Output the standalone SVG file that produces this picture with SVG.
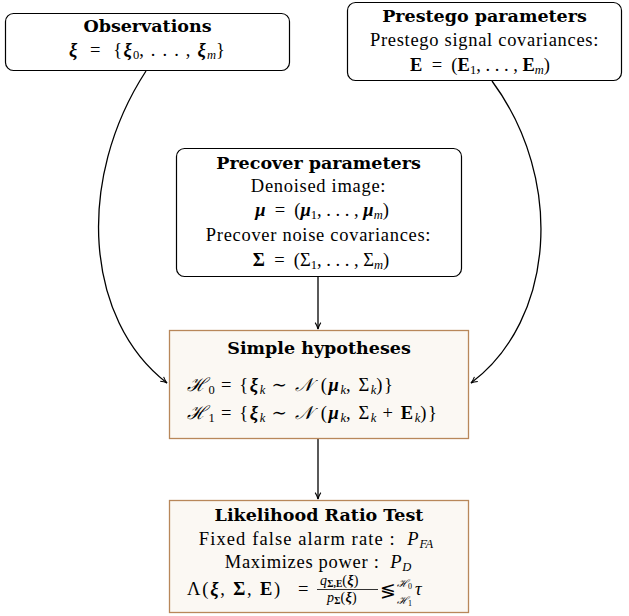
<svg xmlns="http://www.w3.org/2000/svg" width="629" height="616" viewBox="0 0 629 616">
<defs>
<style>
.box{fill:#ffffff;stroke:#000;stroke-width:1.2}
.bbox{fill:#fbf8f3;stroke:#b8875a;stroke-width:1.3}
text{font-family:"Liberation Serif","DejaVu Serif",serif;font-size:18.5px;letter-spacing:0.7px;fill:#000}
.c{text-anchor:middle}
.t{font-family:"DejaVu Serif","Liberation Serif",serif;font-weight:bold;font-size:17.5px;letter-spacing:0}
.m{font-style:italic}
.b{font-weight:bold}
.s{font-size:12.5px;letter-spacing:0}
.xs{font-size:9.5px;letter-spacing:0}
.f{font-size:14px;letter-spacing:0.3px}
.h{letter-spacing:1.6px}
.n{letter-spacing:0}
.edge{fill:none;stroke:#000;stroke-width:1.3}
</style>
<marker id="arr" viewBox="0 0 10 10" refX="9" refY="5" markerWidth="8" markerHeight="8" orient="auto" markerUnits="userSpaceOnUse">
<path d="M1,1.5 Q5,4 9,5 Q5,6 1,8.5" fill="none" stroke="#000" stroke-width="1.3"/>
</marker>
</defs>
<rect width="629" height="616" fill="#fff"/>
<g id="edges">
<path class="edge" d="M146,71 C75,180 85,320 167,383" marker-end="url(#arr)"/>
<path class="edge" d="M492,81 C565,180 555,320 471,383" marker-end="url(#arr)"/>
<path class="edge" d="M318,277 L318,329" marker-end="url(#arr)"/>
<path class="edge" d="M318,439 L318,499" marker-end="url(#arr)"/>
</g>
<g id="observations">
<rect class="box" x="5.5" y="13.5" width="284" height="57" rx="8"/>
<text class="c t" x="147.5" y="32">Observations</text>
<text class="c" x="147.5" y="56" style="letter-spacing:1.2px" xml:space="preserve"><tspan class="b m">ξ</tspan>  =  {<tspan class="b m">ξ</tspan><tspan class="s" dy="3">0</tspan><tspan dy="-3">, . . . , </tspan><tspan class="b m">ξ</tspan><tspan class="s m" dy="3">m</tspan><tspan dy="-3">}</tspan></text>
</g>
<g id="prestego">
<rect class="box" x="347.5" y="2.5" width="274" height="78" rx="8"/>
<text class="c t" x="484.5" y="22">Prestego parameters</text>
<text class="c" x="484.5" y="46">Prestego signal covariances:</text>
<text class="c n" x="480" y="71" xml:space="preserve"><tspan class="b">E</tspan>  =  (<tspan class="b">E</tspan><tspan class="s" dy="3">1</tspan><tspan dy="-3">, . . . , </tspan><tspan class="b">E</tspan><tspan class="s m" dy="3">m</tspan><tspan dy="-3">)</tspan></text>
</g>
<g id="precover">
<rect class="box" x="176.5" y="148.5" width="285" height="128" rx="8"/>
<text class="c t" x="318.5" y="169">Precover parameters</text>
<text class="c" x="318.5" y="192">Denoised image:</text>
<text class="c n" x="322" y="216" xml:space="preserve"><tspan class="b m">μ</tspan>  =  (<tspan class="b m">μ</tspan><tspan class="s" dy="3">1</tspan><tspan dy="-3">, . . . , </tspan><tspan class="b m">μ</tspan><tspan class="s m" dy="3">m</tspan><tspan dy="-3">)</tspan></text>
<text class="c" x="318.5" y="241">Precover noise covariances:</text>
<text class="c n" x="321" y="266" xml:space="preserve"><tspan class="b">Σ</tspan>  =  (Σ<tspan class="s" dy="3">1</tspan><tspan dy="-3">, . . . , Σ</tspan><tspan class="s m" dy="3">m</tspan><tspan dy="-3">)</tspan></text>
</g>
<g id="hypotheses">
<rect class="bbox" x="169.5" y="330.5" width="299" height="108"/>
<text class="c t" x="319" y="354">Simple hypotheses</text>
<text class="h" x="187" y="391" xml:space="preserve"><tspan class="m">ℋ</tspan><tspan class="s" dy="3">0</tspan><tspan dy="-3"> = {</tspan><tspan class="b m">ξ</tspan><tspan class="s m" dy="3">k</tspan><tspan dy="-3"> ∼ </tspan><tspan class="m">𝒩</tspan> (<tspan class="b m">μ</tspan><tspan class="s m" dy="3">k</tspan><tspan dy="-3">, Σ</tspan><tspan class="s m" dy="3">k</tspan><tspan dy="-3">)}</tspan></text>
<text class="h" x="187" y="419" xml:space="preserve"><tspan class="m">ℋ</tspan><tspan class="s" dy="3">1</tspan><tspan dy="-3"> = {</tspan><tspan class="b m">ξ</tspan><tspan class="s m" dy="3">k</tspan><tspan dy="-3"> ∼ </tspan><tspan class="m">𝒩</tspan> (<tspan class="b m">μ</tspan><tspan class="s m" dy="3">k</tspan><tspan dy="-3">, Σ</tspan><tspan class="s m" dy="3">k</tspan><tspan dy="-3"> + </tspan><tspan class="b">E</tspan><tspan class="s m" dy="3">k</tspan><tspan dy="-3">)}</tspan></text>
</g>
<g id="lrt">
<rect class="bbox" x="169.5" y="500.5" width="299" height="112"/>
<text class="c t" x="319" y="521">Likelihood Ratio Test</text>
<text class="c" x="316" y="545" style="letter-spacing:1.1px" xml:space="preserve">Fixed false alarm rate :  <tspan class="m">P</tspan><tspan class="s m" dy="3">FA</tspan></text>
<text class="c" x="318" y="568" xml:space="preserve">Maximizes power :  <tspan class="m">P</tspan><tspan class="s m" dy="2.5">D</tspan></text>
<text x="187" y="595" style="letter-spacing:1.8px" xml:space="preserve">Λ(<tspan class="b m">ξ</tspan>, <tspan class="b">Σ</tspan>, <tspan class="b">E</tspan>)</text>
<text x="298" y="595">=</text>
<text x="320" y="585" class="f"><tspan class="m">q</tspan><tspan class="xs b" dy="2">Σ,E</tspan><tspan dy="-2">(</tspan><tspan class="b m">ξ</tspan>)</text>
<line x1="317" y1="589.5" x2="378" y2="589.5" stroke="#000" stroke-width="0.8"/>
<text x="327" y="602" class="f"><tspan class="m">p</tspan><tspan class="xs b" dy="2">Σ</tspan><tspan dy="-2">(</tspan><tspan class="b m">ξ</tspan>)</text>
<text x="380" y="597" class="n">≶</text>
<text x="397" y="587" style="font-size:10.5px;letter-spacing:0"><tspan class="m">ℋ</tspan><tspan style="font-size:8px" dy="2">0</tspan></text>
<text x="397" y="604" style="font-size:10.5px;letter-spacing:0"><tspan class="m">ℋ</tspan><tspan style="font-size:8px" dy="2">1</tspan></text>
<text x="415" y="595" class="m">τ</text>
</g>
</svg>
